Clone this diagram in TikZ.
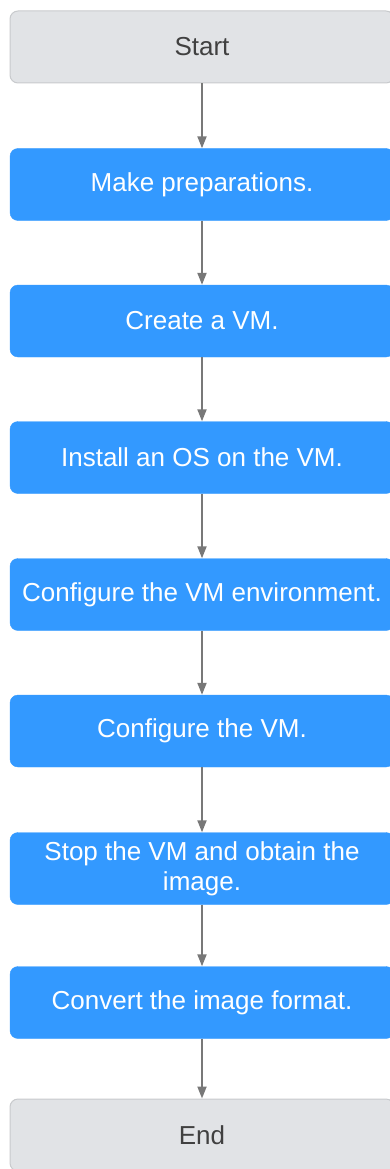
\documentclass[tikz,border=0pt]{standalone}
\usepackage{fontspec}
\setmainfont{Liberation Sans}
\usetikzlibrary{arrows.meta}
\definecolor{procblue}{RGB}{51,153,255}
\definecolor{termgray}{RGB}{225,227,230}
\definecolor{termborder}{RGB}{200,202,205}
\definecolor{termtext}{RGB}{64,64,64}
\definecolor{arrowgray}{RGB}{120,120,120}
\tikzset{
  boxbase/.style={rounded corners=8pt, minimum width=384pt, minimum height=72pt, inner sep=0pt, align=center, font=\fontsize{26}{30}\selectfont},
  proc/.style={boxbase, fill=procblue, draw=procblue, text=white},
  term/.style={boxbase, fill=termgray, draw=termborder, line width=1pt, text=termtext},
  flow/.style={draw=arrowgray, line width=2pt, -{Triangle[length=12pt,width=9pt]}}
}
\begin{document}
\begin{tikzpicture}[x=1pt,y=-1pt]
\path[use as bounding box] (0,0) rectangle (390,1169);
\clip (0,0) rectangle (390,1169);
\node[term] (start) at (202,47) {Start};
\node[proc] (prep) at (202,184.5) {Make preparations.};
\node[proc] (create) at (202,321) {Create a VM.};
\node[proc] (install) at (202,457.5) {Install an OS on the VM.};
\node[proc] (env) at (202,594.5) {Configure the VM environment.};
\node[proc] (conf) at (202,731) {Configure the VM.};
\node[proc] (stop) at (202,868.5) {Stop the VM and obtain the\\image.};
\node[proc] (convert) at (202,1002.5) {Convert the image format.};
\node[term] (end) at (202,1135) {End};
\draw[flow] (start) -- (prep);
\draw[flow] (prep) -- (create);
\draw[flow] (create) -- (install);
\draw[flow] (install) -- (env);
\draw[flow] (env) -- (conf);
\draw[flow] (conf) -- (stop);
\draw[flow] (stop) -- (convert);
\draw[flow] (convert) -- (end);
\end{tikzpicture}
\end{document}
